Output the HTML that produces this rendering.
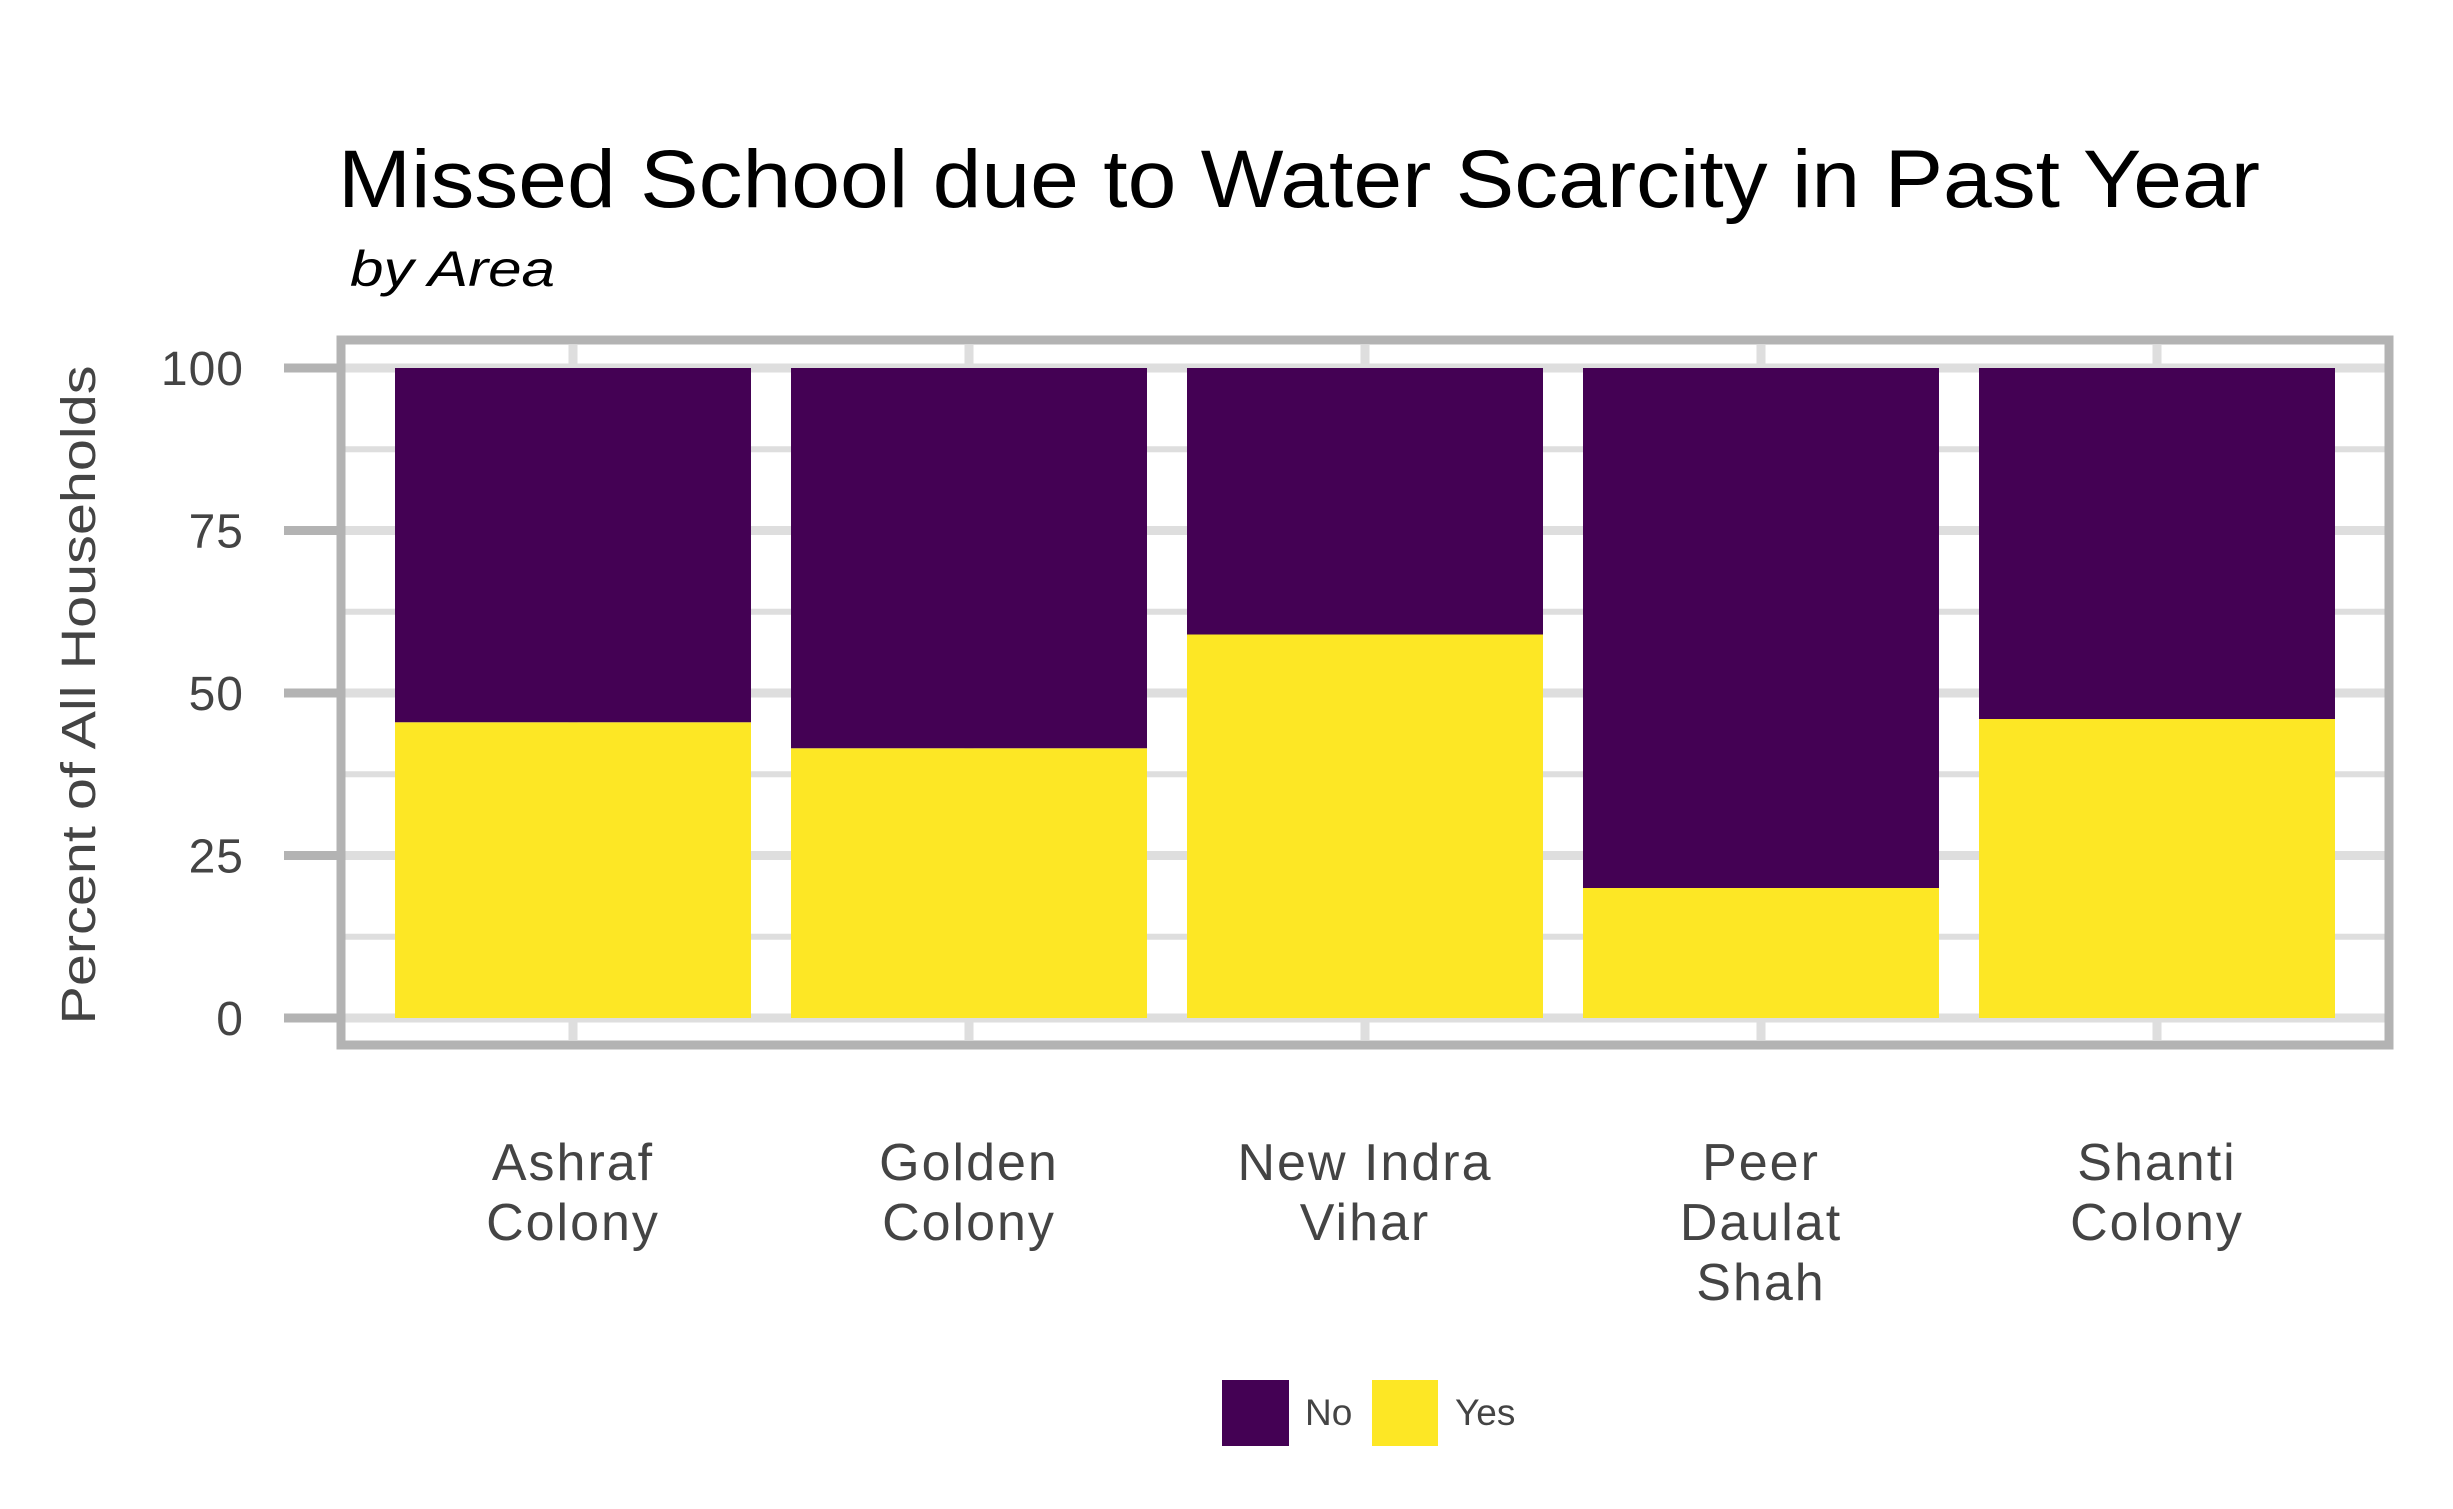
<!DOCTYPE html>
<html><head><meta charset="utf-8"><style>
html,body{margin:0;padding:0;background:#fff;}
svg{display:block;font-family:"Liberation Sans","DejaVu Sans",sans-serif;}
</style></head><body>
<svg id="chart" width="2453" height="1509" viewBox="0 0 2453 1509" xmlns="http://www.w3.org/2000/svg">
<rect width="2453" height="1509" fill="#fff"/>
<text x="338" y="207" font-size="82" fill="#000" textLength="1922" lengthAdjust="spacingAndGlyphs">Missed School due to Water Scarcity in Past Year</text>
<text x="350" y="286" font-size="50" font-style="italic" fill="#000" textLength="205" lengthAdjust="spacingAndGlyphs">by Area</text>
<g id="grid"></g>
<g id="bars"></g>
<rect x="341" y="340" width="2048" height="705" fill="none" stroke="#b3b3b3" stroke-width="9"/>
<g id="yaxis"></g>
<g id="xaxis"></g>
<text transform="translate(95,695) rotate(-90)" text-anchor="middle" font-size="48" fill="#444" textLength="659" lengthAdjust="spacingAndGlyphs">Percent of All Households</text>
<g>
<rect x="1222" y="1380" width="67" height="66" fill="#440154"/>
<text x="1305" y="1425" font-size="37" fill="#444">No</text>
<rect x="1372" y="1380" width="66" height="66" fill="#FDE725"/>
<text x="1455" y="1425" font-size="37" fill="#444">Yes</text>
</g>
</svg>
<script>
const categories = [["Ashraf","Colony"],["Golden","Colony"],["New Indra","Vihar"],["Peer","Daulat","Shah"],["Shanti","Colony"]];
const yesValues = [45.5, 41.5, 59, 20, 46];
const noValues = [54.5, 58.5, 41, 80, 54];
const yTicks = [0, 25, 50, 75, 100];
const yTickLabels = ["0","25","50","75","100"];

const NS = "http://www.w3.org/2000/svg";
const y = v => 1018 - v * 6.5;
const pitch = 396, barW = 356, x0 = 395;
const xc = i => x0 + i * pitch + barW / 2;
function mk(tag, attrs, parent) {
  const e = document.createElementNS(NS, tag);
  for (const k in attrs) e.setAttribute(k, attrs[k]);
  parent.appendChild(e);
  return e;
}
const grid = document.getElementById('grid');
const bars = document.getElementById('bars');
const yaxis = document.getElementById('yaxis');
const xaxis = document.getElementById('xaxis');
for (let i = 0; i < yTicks.length - 1; i++) {
  const v = (yTicks[i] + yTicks[i + 1]) / 2;
  const l = mk('line', {x1: 345, x2: 2385, y1: y(v), y2: y(v), stroke: '#dedede', 'stroke-width': 6}, grid);
  
  
}
yTicks.forEach((v, i) => {
  const l = mk('line', {x1: 345, x2: 2385, y1: y(v), y2: y(v), stroke: '#dedede', 'stroke-width': 9}, grid);
  
  
  const t = mk('line', {x1: 284, x2: 341, y1: y(v), y2: y(v), stroke: '#b3b3b3', 'stroke-width': 9}, yaxis);
  
  
  const tx = mk('text', {x: 244, y: y(v) + 17, 'text-anchor': 'end', 'font-size': 48, fill: '#444', 'letter-spacing': 1}, yaxis);
  tx.textContent = yTickLabels[i];
  
  
});
categories.forEach((c, i) => {
  const g = mk('line', {x1: xc(i), x2: xc(i), y1: 345, y2: 1040, stroke: '#dedede', 'stroke-width': 9}, grid);
  
  
  const by = mk('rect', {x: x0 + i * pitch, y: y(yesValues[i]), width: barW, height: y(0) - y(yesValues[i]), fill: '#FDE725'}, bars);
  
  
  const top = yesValues[i] + noValues[i];
  const bn = mk('rect', {x: x0 + i * pitch, y: y(top), width: barW, height: y(yesValues[i]) - y(top), fill: '#440154'}, bars);
  
  
  c.forEach((line, j) => {
    const t = mk('text', {x: xc(i), y: 1180 + j * 60, 'text-anchor': 'middle', 'font-size': 52, fill: '#444', 'letter-spacing': 2}, xaxis);
    t.textContent = line;
    
    
  });
});
</script>
</body></html>
